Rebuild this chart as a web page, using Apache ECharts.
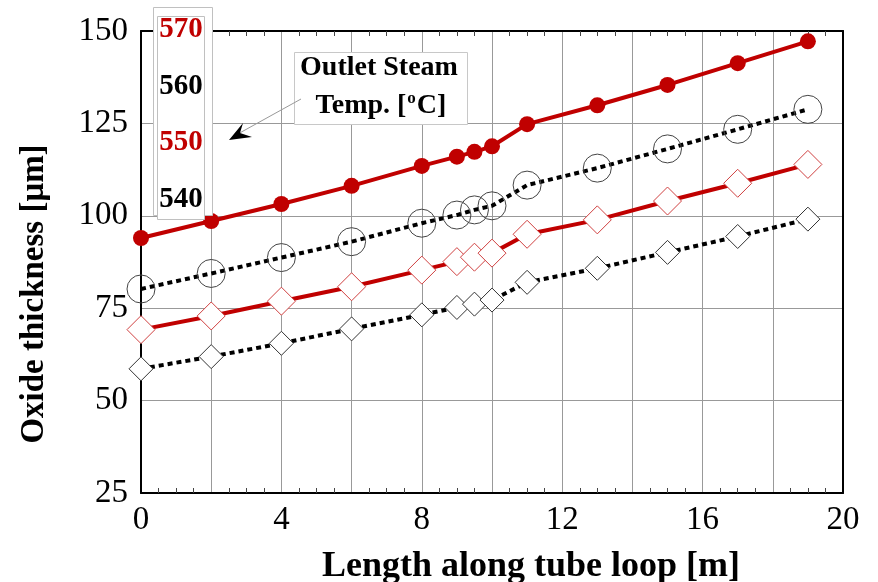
<!DOCTYPE html>
<html>
<head>
<meta charset="utf-8">
<script src="https://cdn.jsdelivr.net/npm/echarts@6/dist/echarts.min.js"></script>
<style>
  html, body { margin: 0; padding: 0; background: #fff; }
  #chart { width: 878px; height: 582px; }
</style>
</head>
<body>
<div id="chart"></div>
<script>
// Position along the tube loop [m]
const lengths = [0, 2, 4, 6, 8, 9, 9.5, 10, 11, 13, 15, 17, 19];

// Oxide thickness [µm] for each outlet steam temperature
const t570 = [94.0, 98.6, 103.2, 108.1, 113.5, 116.0, 117.3, 118.8, 124.8, 129.9, 135.4, 141.3, 147.2];
const t560 = [80.2, 84.4, 88.7, 93.0, 98.0, 100.2, 101.6, 102.7, 108.3, 112.9, 118.1, 123.4, 128.8];
const t550 = [69.2, 72.9, 76.9, 80.8, 85.3, 87.6, 88.8, 89.9, 95.0, 98.9, 104.0, 108.8, 113.9];
const t540 = [58.6, 61.9, 65.5, 69.4, 73.2, 75.2, 76.1, 77.2, 82.0, 85.8, 90.1, 94.4, 99.1];

const tempLabels = ['570', '560', '550', '540'];
const yTicks = [25, 50, 75, 100, 125, 150];
const xTicks = [0, 4, 8, 12, 16, 20];

const RED = '#c00000';
const BLACK = '#000000';
const FONT = '"Liberation Serif", "Times New Roman", serif';

const pairs = (ys) => lengths.map((x, i) => [x, ys[i]]);

const chart = echarts.init(document.getElementById('chart'), null, { renderer: 'canvas' });

const frameLine = { show: true, onZero: false, lineStyle: { color: '#000', width: 2 } };
const grid = { left: 141, right: 35, top: 31, bottom: 89, containLabel: false, outerBoundsMode: 'none' };

const dotted = { color: BLACK, width: 4, type: [5, 4], cap: 'butt' };
// small ticks pointing into the plot between the grid lines
const innerMinor = { show: true, splitNumber: 4, length: 5, lineStyle: { color: '#444', width: 1 } };

chart.setOption({
  backgroundColor: '#fff',
  animation: false,
  grid: grid,
  xAxis: [
    {
      type: 'value', min: 0, max: 20, interval: 2, position: 'bottom',
      axisLine: frameLine,
      axisTick: { show: false, inside: true },
      minorTick: innerMinor,
      axisLabel: {
        fontFamily: FONT, fontSize: 33, color: '#000', margin: 11,
        formatter: (v) => (xTicks.includes(v) ? String(v) : '')
      },
      splitLine: { show: true, lineStyle: { color: '#999', width: 1 } },
      name: 'Length along tube loop [m]', nameLocation: 'middle', nameGap: 56,
      nameTextStyle: { fontFamily: FONT, fontSize: 36, fontWeight: 'bold', color: '#000', padding: [0, 0, 0, 78] }
    },
    {
      type: 'value', min: 0, max: 20, interval: 2, position: 'top',
      axisLine: frameLine,
      axisTick: { show: false, inside: true },
      minorTick: innerMinor,
      axisLabel: { show: false },
      splitLine: { show: false }
    }
  ],
  yAxis: [
    {
      type: 'value', min: 25, max: 150, interval: 25, position: 'left',
      axisLine: frameLine,
      axisTick: { show: false },
      axisLabel: {
        fontFamily: FONT, fontSize: 33, color: '#000', margin: 13,
        formatter: (v) => (yTicks.includes(v) ? String(v) : '')
      },
      splitLine: { show: true, lineStyle: { color: '#999', width: 1 } },
      name: 'Oxide thickness [\u03bcm]', nameLocation: 'middle', nameGap: 90, nameRotate: 90,
      nameTextStyle: { fontFamily: FONT, fontSize: 33, fontWeight: 'bold', color: '#000', padding: [0, 64, 0, 0] }
    },
    {
      type: 'value', min: 25, max: 150, interval: 25, position: 'right',
      axisLine: frameLine,
      axisTick: { show: false },
      axisLabel: { show: false },
      splitLine: { show: false }
    }
  ],
  series: [
    {
      name: tempLabels[3], type: 'line', data: pairs(t540), z: 2,
      symbol: 'diamond', symbolSize: 24,
      lineStyle: dotted,
      itemStyle: { color: '#fff', borderColor: '#333', borderWidth: 1 }
    },
    {
      name: tempLabels[2], type: 'line', data: pairs(t550), z: 3,
      symbol: 'diamond', symbolSize: 28,
      lineStyle: { color: RED, width: 4 },
      itemStyle: { color: '#fff', borderColor: '#d04040', borderWidth: 1 }
    },
    {
      name: tempLabels[1], type: 'line', data: pairs(t560), z: 4,
      symbol: 'circle', symbolSize: 28,
      lineStyle: dotted,
      itemStyle: { color: 'rgba(255,255,255,0)', borderColor: '#444', borderWidth: 1 }
    },
    {
      name: tempLabels[0], type: 'line', data: pairs(t570), z: 5,
      symbol: 'circle', symbolSize: 16,
      lineStyle: { color: RED, width: 4 },
      itemStyle: { color: RED, borderWidth: 0 }
    }
  ],
  graphic: [
    // temperature key box
    { type: 'rect', z: 10, shape: { x: 153.5, y: 7.5, width: 59, height: 208 },
      style: { fill: '#fff', stroke: '#c0c0c0', lineWidth: 1 } },
    { type: 'rect', z: 11, shape: { x: 157.5, y: 16.5, width: 47, height: 203 },
      style: { fill: '#fff', stroke: '#c0c0c0', lineWidth: 1 } },
    { type: 'text', z: 12, x: 181, y: 30, style: { text: tempLabels[0], fill: RED, font: 'bold 29px ' + FONT, align: 'center', verticalAlign: 'middle' } },
    { type: 'text', z: 12, x: 181, y: 87, style: { text: tempLabels[1], fill: BLACK, font: 'bold 29px ' + FONT, align: 'center', verticalAlign: 'middle' } },
    { type: 'text', z: 12, x: 181, y: 143, style: { text: tempLabels[2], fill: RED, font: 'bold 29px ' + FONT, align: 'center', verticalAlign: 'middle' } },
    { type: 'text', z: 12, x: 181, y: 200, style: { text: tempLabels[3], fill: BLACK, font: 'bold 29px ' + FONT, align: 'center', verticalAlign: 'middle' } },
    // caption box
    { type: 'rect', z: 10, shape: { x: 294.5, y: 52.5, width: 173, height: 72 },
      style: { fill: '#fff', stroke: '#c8c8c8', lineWidth: 1 } },
    { type: 'text', z: 12, x: 379, y: 68, style: { text: 'Outlet Steam', fill: '#000', font: 'bold 28px ' + FONT, align: 'center', verticalAlign: 'middle' } },
    { type: 'text', z: 12, x: 381, y: 105,
      style: {
        text: '{a|Temp. [}{s|o}{a|C]}', align: 'center', verticalAlign: 'middle',
        rich: {
          a: { fill: '#000', font: 'bold 28px ' + FONT, verticalAlign: 'bottom' },
          s: { fill: '#000', font: 'bold 17px ' + FONT, verticalAlign: 'top', padding: [0, 1, 12, 1] }
        }
      } },
    // pointer from caption to key
    { type: 'line', z: 12, shape: { x1: 301, y1: 99, x2: 236, y2: 135 },
      style: { stroke: '#999', lineWidth: 1 } },
    { type: 'polygon', z: 12, shape: { points: [[229, 140], [243, 123], [240, 133], [252, 137]] },
      style: { fill: '#000' } }
  ]
});
</script>
</body>
</html>
